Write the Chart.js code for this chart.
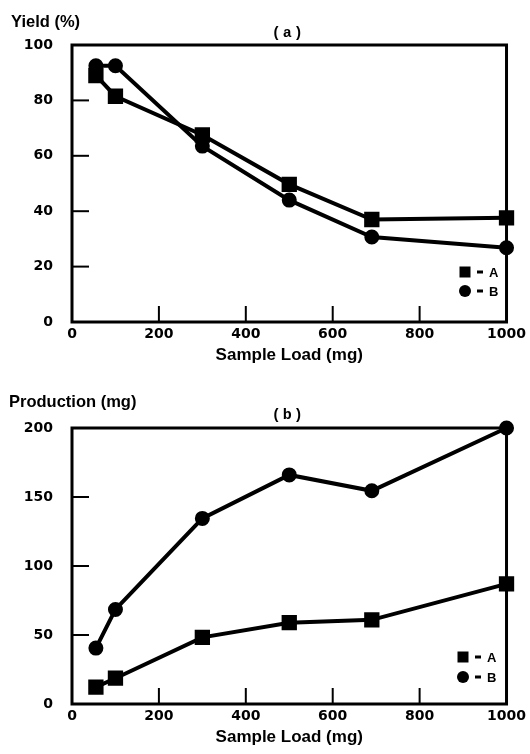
<!DOCTYPE html>
<html>
<head>
<meta charset="utf-8">
<script src="https://cdn.jsdelivr.net/npm/chart.js@4/dist/chart.umd.min.js"></script>
<style>
  html, body { margin: 0; padding: 0; background: #fff; }
  .panel { position: absolute; left: 0; width: 530px; height: 377px; }
  #pa { top: 0; }
  #pb { top: 377px; }
</style>
</head>
<body>
<div class="panel" id="pa"><canvas id="ca"></canvas></div>
<div class="panel" id="pb"><canvas id="cb"></canvas></div>
<script>
// ---- data ----
const sampleLoad = [55, 100, 300, 500, 690, 1000];
const yieldA = [89, 81.5, 67.5, 49.7, 37, 37.6];
const yieldB = [92.5, 92.5, 63.5, 44, 30.7, 26.8];
const prodA = [12.2, 18.7, 48.3, 58.9, 61, 87];
const prodB = [40.5, 68.5, 134.5, 166, 154.5, 200];
const seriesNames = ['A', 'B'];
const xTitle = 'Sample Load (mg)';
const yTitleA = 'Yield (%)';
const yTitleB = 'Production (mg)';
const panelA = '(a)';
const panelB = '(b)';

const FONT = '"Liberation Sans", Arial, sans-serif';
const TICKFONT = '"DejaVu Sans", "Liberation Sans", sans-serif';

function pts(xs, ys) { return xs.map((x, i) => ({ x: x, y: ys[i] })); }

const frame = {
  id: 'frame',
  beforeDatasetsDraw(chart, args, o) {
    const { ctx, chartArea: a } = chart;
    const x = chart.scales.x, y = chart.scales.y;
    ctx.save();
    ctx.strokeStyle = '#000';
    ctx.lineWidth = 2;
    x.ticks.forEach(t => {
      if (t.value > x.min && t.value < x.max) {
        const px = x.getPixelForValue(t.value);
        ctx.beginPath(); ctx.moveTo(px, a.bottom); ctx.lineTo(px, a.bottom - 16); ctx.stroke();
      }
    });
    y.ticks.forEach(t => {
      if (t.value > y.min && t.value < y.max) {
        const py = y.getPixelForValue(t.value);
        ctx.beginPath(); ctx.moveTo(a.left, py); ctx.lineTo(a.left + 17, py); ctx.stroke();
      }
    });
    ctx.lineWidth = 3;
    ctx.strokeRect(a.left, a.top, a.right - a.left, a.bottom - a.top);
    ctx.restore();
  },
  afterDraw(chart, args, o) {
    const { ctx, chartArea: a } = chart;
    ctx.save();
    ctx.fillStyle = '#000';
    ctx.textBaseline = 'middle';
    ctx.textAlign = 'left';
    ctx.font = 'bold 16.5px ' + FONT;
    ctx.fillText(o.yTitle, o.yTitleX, o.yTitleY);
    ctx.textAlign = 'center';
    ctx.font = 'bold 15px "Liberation Mono", "DejaVu Sans Mono", monospace';
    const cx0 = (a.left + a.right) / 2 - 2;
    const parts = o.panel.split('');
    parts.forEach((ch, k) => ctx.fillText(ch, cx0 + (k - 1) * 11, o.panelY));
    // legend
    chart.data.datasets.forEach((ds, i) => {
      const cx = o.legX, cy = o.legY + i * o.legGap;
      ctx.beginPath();
      if (ds.pointStyle === 'rect') {
        ctx.rect(cx - 5.5, cy - 5.5, 11, 11);
      } else {
        ctx.arc(cx, cy, 6, 0, Math.PI * 2);
      }
      ctx.fill();
      ctx.fillRect(cx + 12, cy - 1.5, 6, 3);
      ctx.textAlign = 'left';
      ctx.font = 'bold 13px ' + FONT;
      ctx.fillText(ds.label, cx + 24, cy + 1);
    });
    ctx.restore();
  }
};

function makeChart(id, ysA, ysB, yMax, yStep, pad, frameOpts) {
  return new Chart(document.getElementById(id), {
    type: 'scatter',
    data: {
      datasets: [
        { label: seriesNames[0], data: pts(sampleLoad, ysA), showLine: true,
          borderColor: '#000', backgroundColor: '#000', borderWidth: 4,
          pointStyle: 'rect', pointRadius: 8, pointHoverRadius: 8, clip: false },
        { label: seriesNames[1], data: pts(sampleLoad, ysB), showLine: true,
          borderColor: '#000', backgroundColor: '#000', borderWidth: 4,
          pointStyle: 'circle', pointRadius: 5.5, pointHoverRadius: 5.5, clip: false }
      ]
    },
    options: {
      responsive: true,
      maintainAspectRatio: false,
      animation: false,
      layout: { padding: pad },
      plugins: { legend: { display: false }, title: { display: false }, tooltip: { enabled: false }, frame: frameOpts },
      scales: {
        x: {
          type: 'linear', min: 0, max: 1000,
          grid: { display: false, drawTicks: false },
          border: { display: false },
          ticks: { stepSize: 200, color: '#000', padding: 4, callback: v => String(v),
                   font: { family: TICKFONT, size: 14, weight: 'bold' } },
          title: { display: true, text: xTitle, color: '#000', padding: 0, font: { family: FONT, size: 17, weight: 'bold' } },
          afterFit(s) { s.height = 44; }
        },
        y: {
          type: 'linear', min: 0, max: yMax,
          grid: { display: false, drawTicks: false },
          border: { display: false },
          ticks: { stepSize: yStep, color: '#000', padding: 19, callback: v => String(v),
                   font: { family: TICKFONT, size: 14, weight: 'bold' } },
          afterFit(s) { s.width = 72; }
        }
      }
    },
    plugins: [frame]
  });
}

makeChart('ca', yieldA, yieldB, 100, 20, { top: 45, right: 23, bottom: 11, left: 0 },
  { yTitle: yTitleA, yTitleX: 11, yTitleY: 22, panel: panelA, panelY: 33, legX: 465, legY: 272, legGap: 19 });
makeChart('cb', prodA, prodB, 200, 50, { top: 51, right: 23, bottom: 6, left: 0 },
  { yTitle: yTitleB, yTitleX: 9, yTitleY: 25, panel: panelB, panelY: 38, legX: 463, legY: 280, legGap: 20 });
</script>
</body>
</html>
